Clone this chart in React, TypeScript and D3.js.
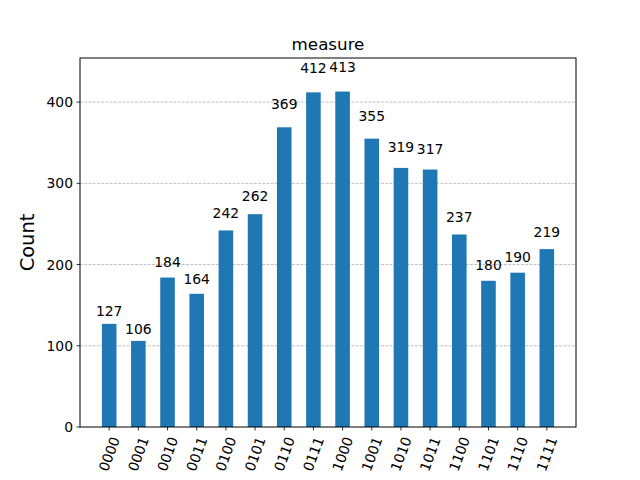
// Qiskit-style measurement histogram, drawn with D3 scales in JSX.
import * as d3 from "d3";

const STATES = [
  "0000", "0001", "0010", "0011", "0100", "0101", "0110", "0111",
  "1000", "1001", "1010", "1011", "1100", "1101", "1110", "1111",
];
const COUNTS = [127, 106, 184, 164, 242, 262, 369, 412, 413, 355, 319, 317, 237, 180, 190, 219];
const Y_TICKS = [0, 100, 200, 300, 400];

const W = 640;
const H = 480;
const margin = { top: 58, right: 64, bottom: 53, left: 80 };
const FONT = "DejaVu Sans, sans-serif";

export default function App() {
  const x = d3
    .scaleLinear()
    .domain([-1, STATES.length])
    .range([margin.left, W - margin.right]);
  const y = d3
    .scaleLinear()
    .domain([0, d3.max(COUNTS)! * 1.1])
    .range([H - margin.bottom, margin.top]);
  const bw = x(0.5) - x(0);
  const bottom = H - margin.bottom;
  const x0 = margin.left;
  const x1 = W - margin.right;

  return (
    <div style={{ position: "absolute", left: 0, top: 0 }}>
      <svg width={W} height={H} style={{ display: "block", background: "#fff" }} fontFamily={FONT}>
        {/* grid */}
        {Y_TICKS.filter((t) => t > 0).map((t) => (
          <line
            key={t}
            x1={x0}
            x2={x1}
            y1={y(t)}
            y2={y(t)}
            stroke="#b0b0b0"
            strokeWidth={0.8}
            strokeDasharray="2.96 1.28"
          />
        ))}
        {/* bars */}
        {COUNTS.map((c, i) => (
          <rect key={i} x={x(i) - bw / 2} y={y(c)} width={bw} height={bottom - y(c)} fill="#1f77b4" />
        ))}
        {/* value labels */}
        {COUNTS.map((c, i) => (
          <text key={i} x={x(i)} y={y(c * 1.05) - 3} textAnchor="middle" fontSize={13.9} fill="#000">
            {c}
          </text>
        ))}
        {/* frame */}
        <rect x={x0} y={margin.top} width={x1 - x0} height={bottom - margin.top} fill="none" stroke="#000" strokeWidth={1} />
        {/* y axis */}
        {Y_TICKS.map((t) => (
          <g key={t}>
            <line x1={x0 - 3.5} x2={x0} y1={y(t)} y2={y(t)} stroke="#000" strokeWidth={0.8} />
            <text x={x0 - 7} y={y(t)} textAnchor="end" dominantBaseline="central" fontSize={13.9}>
              {t}
            </text>
          </g>
        ))}
        {/* x axis */}
        {STATES.map((s, i) => (
          <g key={s}>
            <line x1={x(i)} x2={x(i)} y1={bottom} y2={bottom + 3.5} stroke="#000" strokeWidth={0.8} />
            <text
              transform={`translate(${x(i)},${bottom + 27}) rotate(-70)`}
              textAnchor="middle"
              dominantBaseline="central"
              fontSize={13.9}
            >
              {s}
            </text>
          </g>
        ))}
        <text
          transform={`translate(34,${(margin.top + bottom) / 2}) rotate(-90)`}
          textAnchor="middle"
          fontSize={19.4}
        >
          Count
        </text>
        <text x={(x0 + x1) / 2} y={margin.top - 8} textAnchor="middle" fontSize={16.7}>
          measure
        </text>
      </svg>
    </div>
  );
}
